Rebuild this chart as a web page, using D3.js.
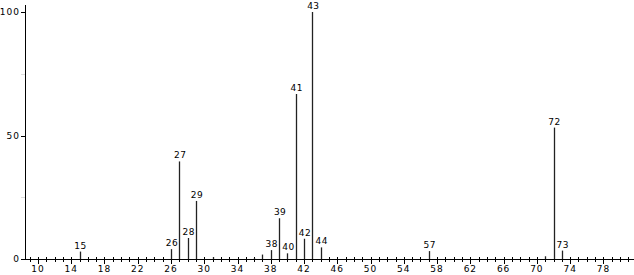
<!DOCTYPE html>
<html>
<head>
<meta charset="utf-8">
<script src="https://cdn.jsdelivr.net/npm/d3@7"></script>
<style>
  body { margin: 0; background: #fff; }
  text { font-family: "DejaVu Sans", sans-serif; font-size: 9px; fill: #000; }
</style>
</head>
<body>
<div id="viz"></div>
<script>
// m/z values and relative intensities
var mz =        [15, 26, 27,   28,  29,   31,  36,  37,  38,  39,   40,  41,   42,  43,  44,  57,  71,  72,   73];
var intensity = [3,  4,  39.5, 8.5, 23.5, 0.8, 0.4, 1.8, 3.6, 16.5, 2.3, 66.8, 8.2, 100, 4.7, 3.2, 1.1, 53.2, 3.4];
var labelled =  [15, 26, 27, 28, 29, 38, 39, 40, 41, 42, 43, 44, 57, 72, 73];
var xTickLabels = d3.range(10, 79, 4);
var yTickLabels = [0, 50, 100];

var width = 634, height = 275;
var svg = d3.select('#viz').append('svg')
  .attr('width', width)
  .attr('height', height);

var x = d3.scaleLinear().domain([8.56, 81.8]).range([26, 635]);
var y = d3.scaleLinear().domain([0, 100]).range([259, 12]);

// x axis: minor ticks on every integer, labels every 4
var g = svg.append('g');
g.append('line')
  .attr('x1', 26).attr('x2', width)
  .attr('y1', y(0) + 0.5).attr('y2', y(0) + 0.5)
  .attr('stroke', '#000');
g.selectAll('line.minor')
  .data(d3.range(9, 82))
  .enter().append('line')
  .attr('class', 'minor')
  .attr('x1', d => Math.round(x(d)) + 0.5)
  .attr('x2', d => Math.round(x(d)) + 0.5)
  .attr('y1', y(0) - 2)
  .attr('y2', d => xTickLabels.indexOf(d) >= 0 ? y(0) + 5 : y(0) + 3)
  .attr('stroke', '#000');
g.selectAll('text.xl')
  .data(xTickLabels)
  .enter().append('text')
  .attr('class', 'xl')
  .attr('x', d => x(d))
  .attr('y', 272)
  .attr('text-anchor', 'middle')
  .attr('letter-spacing', '1px')
  .text(d => d);

// y axis
svg.append('line')
  .attr('x1', 25.5).attr('x2', 25.5)
  .attr('y1', 5).attr('y2', y(0) + 1)
  .attr('stroke', '#000');
svg.selectAll('line.yt')
  .data([0, 25, 50, 75, 100])
  .enter().append('line')
  .attr('class', 'yt')
  .attr('x1', 21).attr('x2', 25)
  .attr('y1', d => Math.round(y(d)) + 0.5)
  .attr('y2', d => Math.round(y(d)) + 0.5)
  .attr('stroke', d => d % 50 === 0 ? '#000' : '#ddd');
svg.selectAll('text.yl')
  .data(yTickLabels)
  .enter().append('text')
  .attr('class', 'yl')
  .attr('x', 20)
  .attr('y', d => y(d) + 3)
  .attr('text-anchor', 'end')
  .attr('letter-spacing', '1px')
  .text(d => d);

// peaks
var peaks = mz.map((m, i) => ({ mz: m, v: intensity[i] }));
svg.selectAll('line.peak')
  .data(peaks)
  .enter().append('line')
  .attr('class', 'peak')
  .attr('x1', d => Math.round(x(d.mz)) + 0.5)
  .attr('x2', d => Math.round(x(d.mz)) + 0.5)
  .attr('y1', y(0))
  .attr('y2', d => y(d.v))
  .attr('stroke', '#222')
  .attr('stroke-width', 1.3);

svg.selectAll('text.pl')
  .data(peaks.filter(d => labelled.indexOf(d.mz) >= 0))
  .enter().append('text')
  .attr('class', 'pl')
  .attr('x', d => x(d.mz) + 1)
  .attr('y', d => y(d.v) - 3)
  .attr('text-anchor', 'middle')
  .attr('letter-spacing', '0.5px')
  .text(d => d.mz);
</script>
</body>
</html>
